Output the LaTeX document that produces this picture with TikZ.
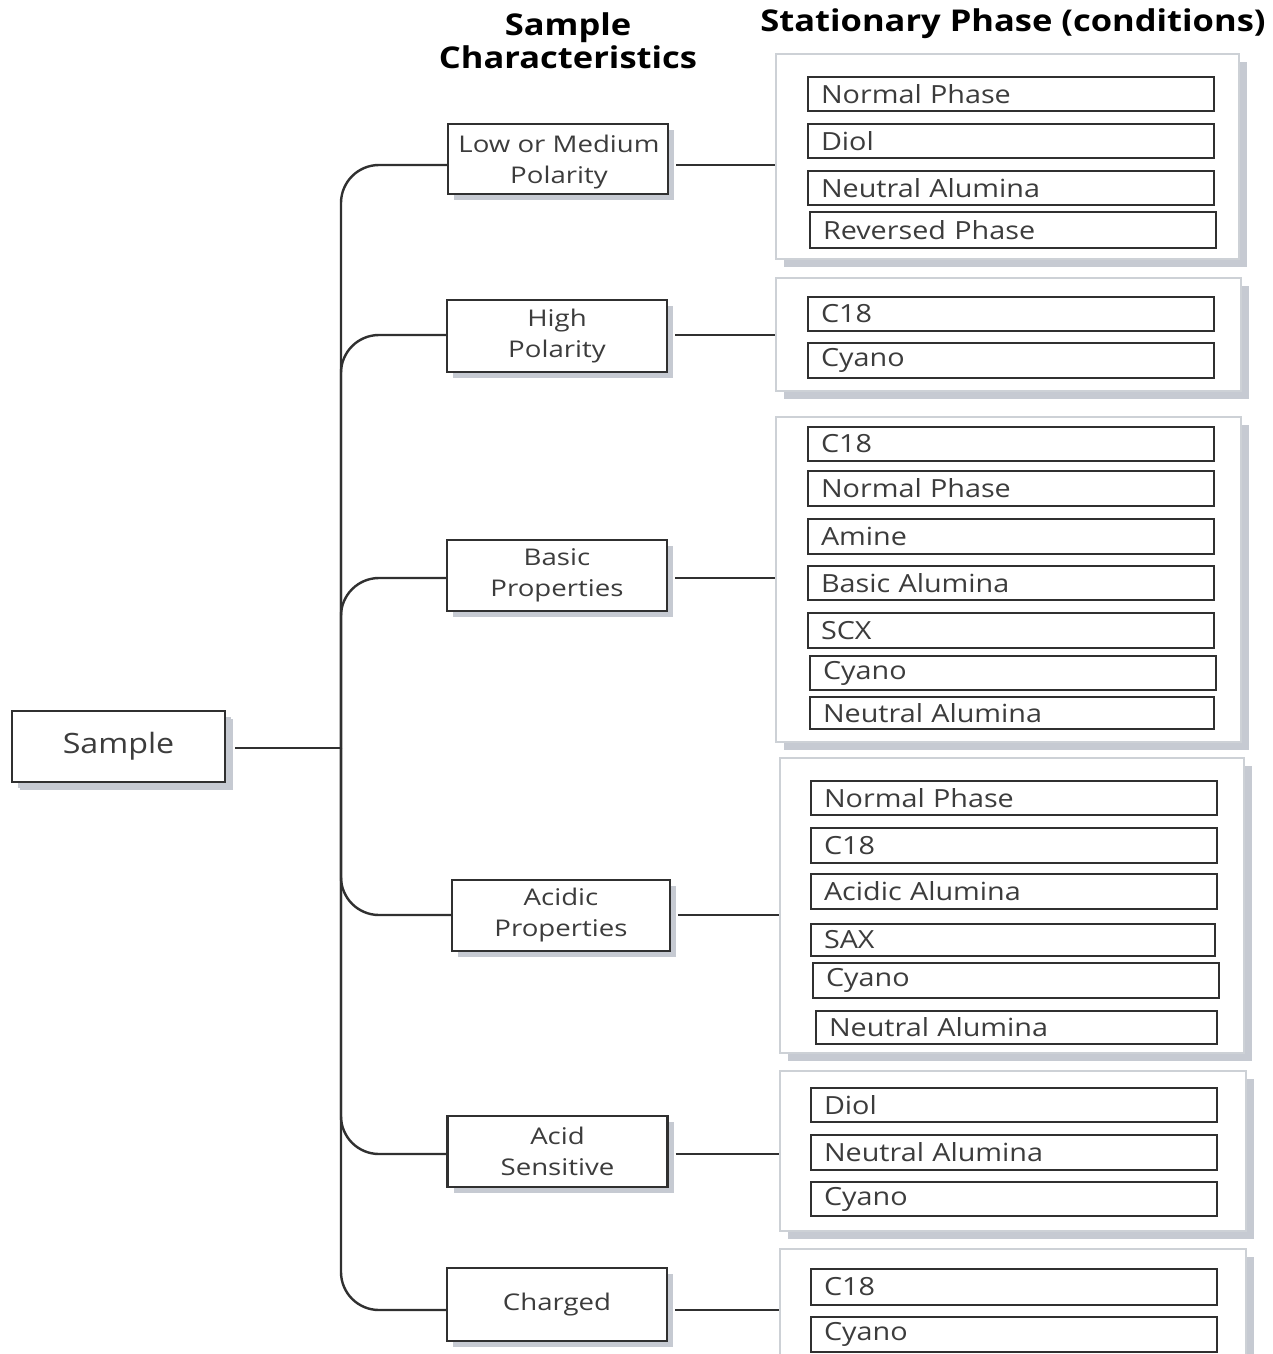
\documentclass[tikz,border=0pt]{standalone}
\usepackage{fontspec}
\setmainfont{Open Sans}
\newfontfamily\innerfont{Open Sans}[FakeStretch=1.15]
\newfontfamily\midfont{Open Sans}[FakeStretch=1.2]
\newfontfamily\headfont{Open Sans}[FakeStretch=1.15]
\usetikzlibrary{shadows,positioning}
\definecolor{txt}{HTML}{3C3C3C}
\definecolor{edge}{HTML}{303030}
\definecolor{shade}{HTML}{C6CAD2}
\definecolor{gborder}{HTML}{CDD1D6}
\begin{document}
\begin{tikzpicture}[x=1pt,y=-1pt,
  conn/.style={draw=edge,line width=2.4pt},
  midtext/.style={text=txt,align=center,font=\midfont\fontsize{23}{31}\selectfont},
  midbox/.style={midtext,draw=edge,line width=2.4pt,fill=white,
    minimum width=220pt,minimum height=71pt,inner sep=0pt,
    drop shadow={shadow xshift=6pt,shadow yshift=-6pt,fill=shade,opacity=1}},
  grpbox/.style={draw=gborder,line width=1.8pt,fill=white,anchor=north west,inner sep=0pt,
    drop shadow={shadow xshift=8pt,shadow yshift=-8pt,fill=shade,opacity=1}},
  ibox/.style={draw=edge,line width=2pt,fill=white,text=txt,anchor=north west,
    minimum height=34pt,inner ysep=0pt,inner xsep=13pt,text width=380pt,align=left,
    font=\innerfont\fontsize{25}{30}\selectfont},
  head/.style={text=black,font=\headfont\bfseries\fontsize{30}{33}\selectfont,align=center}
]
\useasboundingbox (0,0) rectangle (1272,1354);
\fill[white] (0,0) rectangle (1272,1354);

% headers
\node[head] (h1) at (568,41) {Sample\\Characteristics};
\node[head] (h2) at (1013,24) {Stationary Phase (conditions)};

% sample
\node[midbox,minimum width=213pt,minimum height=71pt,font=\innerfont\fontsize{28}{32}\selectfont,
  drop shadow={shadow xshift=8pt,shadow yshift=-8pt,fill=shade,opacity=1}] (s) at (118.5,746.5) {Sample};
\coordinate (trunk) at (341,748);
\draw[conn] ([xshift=9pt]s.east |- trunk) -- (trunk);

% middle boxes
\node[midbox,minimum height=70pt] (m1) at (558,159) {};
\node[midtext] (m1t) at (559,162) {Low or Medium\\Polarity};
\node[midbox,minimum height=72pt] (m2) at (557,336) {High\\Polarity};
\node[midbox] (m3) at (557,575.5) {Basic\\Properties};
\node[midbox,minimum width=218pt] (m4) at (561,915.5) {Acidic\\Properties};
\node[midbox] (m5) at (557.5,1151.5) {Acid\\Sensitive};
\node[midbox,minimum height=73pt] (m6) at (557,1304.5) {Charged};

\coordinate (y1) at (0,165);
\coordinate (y2) at (0,335);
\coordinate (y3) at (0,578);
\coordinate (y4) at (0,915);
\coordinate (y5) at (0,1154);
\coordinate (y6) at (0,1310);

\foreach \i in {1,...,6}{
  \draw[conn,rounded corners=38pt] (trunk) |- (m\i.west |- y\i);
}

% group boxes
\node[grpbox,minimum width=463pt,minimum height=205pt] (g1) at (775,53) {};
\node[grpbox,minimum width=465pt,minimum height=113pt] (g2) at (775,277) {};
\node[grpbox,minimum width=465pt,minimum height=325pt] (g3) at (775,416) {};
\node[grpbox,minimum width=464pt,minimum height=295pt] (g4) at (779,757) {};
\node[grpbox,minimum width=466pt,minimum height=160pt] (g5) at (779,1070) {};
\node[grpbox,minimum width=466pt,minimum height=125pt] (g6) at (779,1248) {};

\foreach \i in {1,...,6}{
  \draw[conn] ([xshift=7pt]m\i.east |- y\i) -- (g\i.west |- y\i);
}

% inner boxes
\node[ibox] (a1) at (807,76) {Normal Phase};
\node[ibox] (a2) at (807,123) {Diol};
\node[ibox] (a3) at (807,170) {Neutral Alumina};
\node[ibox,minimum height=36pt] (a4) at (809,211) {Reversed Phase};

\node[ibox] (b1) at (807,296) {C18};
\node[ibox,minimum height=35pt] (b2) at (807,342) {Cyano};

\node[ibox] (c1) at (807,426) {C18};
\node[ibox,minimum height=35pt] (c2) at (807,470) {Normal Phase};
\node[ibox,minimum height=35pt] (c3) at (807,518) {Amine};
\node[ibox] (c4) at (807,565) {Basic Alumina};
\node[ibox,minimum height=35pt] (c5) at (807,612) {SCX};
\node[ibox] (c6) at (809,655) {Cyano};
\node[ibox,minimum height=32pt,text width=378pt] (c7) at (809,696) {Neutral Alumina};

\node[ibox] (d1) at (810,780) {Normal Phase};
\node[ibox,minimum height=35pt] (d2) at (810,827) {C18};
\node[ibox,minimum height=35pt] (d3) at (810,873) {Acidic Alumina};
\node[ibox,minimum height=32pt,text width=378pt] (d4) at (810,923) {SAX};
\node[ibox,minimum height=35pt] (d5) at (812,962) {Cyano};
\node[ibox,minimum height=33pt,text width=375pt] (d6) at (815,1010) {Neutral Alumina};

\node[ibox] (e1) at (810,1087) {Diol};
\node[ibox,minimum height=35pt] (e2) at (810,1134) {Neutral Alumina};
\node[ibox] (e3) at (810,1181) {Cyano};

\node[ibox,minimum height=36pt] (f1) at (810,1268) {C18};
\node[ibox,minimum height=35pt] (f2) at (810,1316) {Cyano};
\end{tikzpicture}
\end{document}
